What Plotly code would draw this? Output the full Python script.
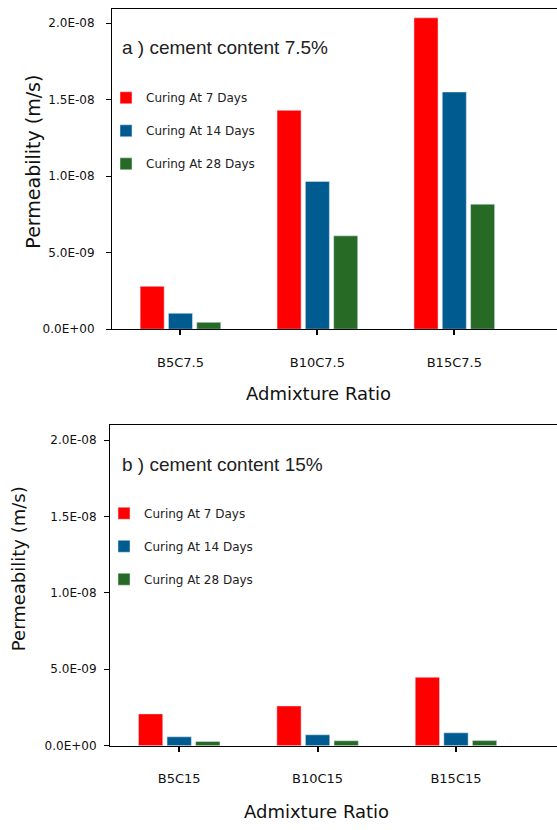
import plotly.graph_objects as go

# Permeability (m/s) by admixture ratio and curing age
cats_a = ["B5C7.5", "B10C7.5", "B15C7.5"]
cats_b = ["B5C15", "B10C15", "B15C15"]
series_names = ["Curing At 7 Days", "Curing At 14 Days", "Curing At 28 Days"]
colors = ["#FF0000", "#005B90", "#266A26"]

vals_a = [
    [2.8e-9, 14.3e-9, 20.35e-9],   # 7 days
    [1.04e-9, 9.66e-9, 15.5e-9],   # 14 days
    [0.45e-9, 6.1e-9, 8.17e-9],    # 28 days
]
vals_b = [
    [2.08e-9, 2.6e-9, 4.48e-9],
    [0.58e-9, 0.71e-9, 0.84e-9],
    [0.28e-9, 0.32e-9, 0.33e-9],
]

ytick_vals = [0, 5e-9, 1e-8, 1.5e-8, 2e-8]
ytick_text = ["0.0E+00", "5.0E-09", "1.0E-08", "1.5E-08", "2.0E-08"]

W, H = 557, 830
tick_font = dict(family="DejaVu Sans", size=12, color="#111111")

fig = go.Figure()
for i, name in enumerate(series_names):
    fig.add_trace(go.Bar(x=cats_a, y=vals_a[i], name=name, marker_color=colors[i],
                         xaxis="x", yaxis="y", legend="legend", legendgroup=f"a{i}"))
for i, name in enumerate(series_names):
    fig.add_trace(go.Bar(x=cats_b, y=vals_b[i], name=name, marker_color=colors[i],
                         xaxis="x2", yaxis="y2", legend="legend2", legendgroup=f"b{i}"))


def py(px):
    return 1 - px / H


def xaxis_cfg(left_px, rng, anchor):
    return dict(domain=[left_px / W, 1], range=rng, anchor=anchor, type="category",
                showline=True, mirror=True, linecolor="black", linewidth=1,
                ticks="outside", ticklen=5, tickwidth=2, tickcolor="black",
                ticklabelstandoff=16, tickfont=dict(family="DejaVu Sans", size=13, color="#111111"),
                showgrid=False, zeroline=False)


def yaxis_cfg(dom, rng, anchor, standoff):
    return dict(domain=dom, range=rng, anchor=anchor,
                showline=True, linecolor="black", linewidth=1,
                ticks="outside", ticklen=5, tickwidth=1, tickcolor="black",
                tickvals=ytick_vals, ticktext=ytick_text, tickfont=tick_font,
                ticklabelstandoff=standoff, showgrid=False, zeroline=False)


legend_common = dict(font=dict(family="DejaVu Sans", size=12, color="#222222"),
                     bgcolor="rgba(0,0,0,0)", traceorder="grouped", tracegroupgap=14,
                     itemwidth=30, xanchor="left", yanchor="top")

fig.update_layout(
    width=W, height=H,
    margin=dict(l=0, r=0, t=0, b=0),
    paper_bgcolor="white", plot_bgcolor="white",
    barmode="group", bargap=0.38, bargroupgap=0.15,
    xaxis=xaxis_cfg(112, [-0.5, 2.75], "y"),
    yaxis=yaxis_cfg([py(332), py(9)], [0, 20.93e-9], "x", 9),
    xaxis2=xaxis_cfg(110, [-0.5, 2.73], "y2"),
    yaxis2=yaxis_cfg([py(752), py(429)], [0, 20.97e-9], "x2", 5),
    legend=dict(x=106 / W, y=py(84), **legend_common),
    legend2=dict(x=104 / W, y=py(503), **legend_common),
    showlegend=True,
)

title_font = dict(family="Liberation Sans", size=19, color="#222222")
axis_title_font = dict(family="DejaVu Sans", size=18, color="#111111")

annotations = [
    dict(text="a ) cement content 7.5%", x=120 / W, y=py(48), xanchor="left", yanchor="middle",
         font=title_font),
    dict(text="b ) cement content 15%", x=120 / W, y=py(468), xanchor="left", yanchor="middle",
         font=title_font),
    dict(text="Admixture Ratio", x=318 / W, y=py(397), xanchor="center", yanchor="middle",
         font=axis_title_font),
    dict(text="Admixture Ratio", x=316 / W, y=py(818), xanchor="center", yanchor="middle",
         font=axis_title_font),
    dict(text="Permeability (m/s)", x=33 / W, y=py(163), textangle=-90, xanchor="center",
         yanchor="middle", font=dict(family="DejaVu Sans", size=19, color="#111111")),
    dict(text="Permeability (m/s)", x=18 / W, y=py(574), textangle=-90, xanchor="center",
         yanchor="middle", font=dict(family="DejaVu Sans", size=18, color="#111111")),
]
for a in annotations:
    a.update(xref="paper", yref="paper", showarrow=False)
fig.update_layout(annotations=annotations)

fig.write_html("out.html")
